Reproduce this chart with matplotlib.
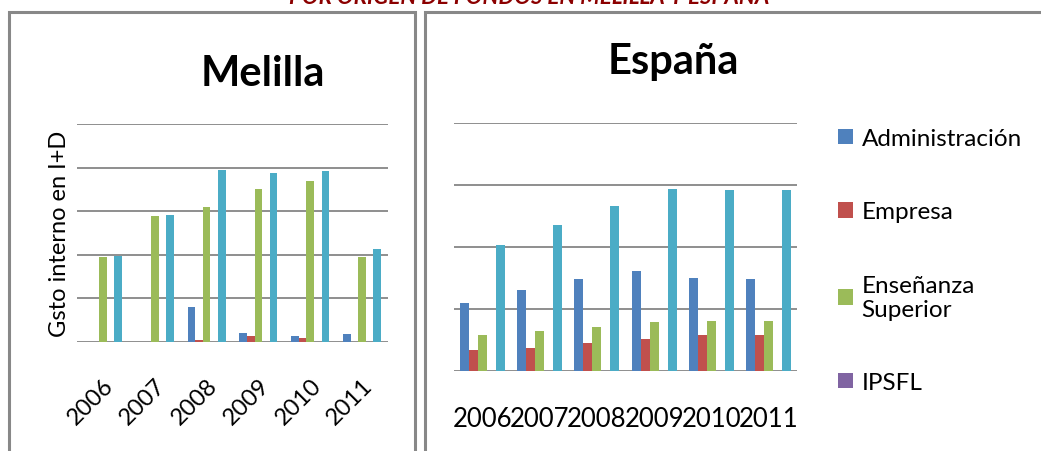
import numpy as np
import matplotlib
matplotlib.use('Agg')
from matplotlib import pyplot as plt
from matplotlib.patches import Rectangle, Patch

plt.rcParams['font.family'] = ['Lato', 'DejaVu Sans']

# data (arbitrary units, one gridline = 1)
years = ['2006', '2007', '2008', '2009', '2010', '2011']
series = ['Administración', 'Empresa', 'Enseñanza\nSuperior', 'IPSFL', 'Total']
colors = ['#4F81BD', '#C0504D', '#9BBB59', '#8064A2', '#4BACC6']

melilla_admin = [0, 0, 0.80, 0.21, 0.14, 0.18]
melilla_empresa = [0, 0, 0.05, 0.14, 0.09, 0]
melilla_ens = [1.95, 2.89, 3.10, 3.51, 3.69, 1.95]
melilla_ipsfl = [0, 0, 0, 0, 0, 0]
melilla_total = [1.98, 2.91, 3.95, 3.88, 3.93, 2.13]

espana_admin = [1.10, 1.31, 1.48, 1.61, 1.50, 1.48]
espana_empresa = [0.34, 0.37, 0.45, 0.52, 0.58, 0.58]
espana_ens = [0.58, 0.65, 0.71, 0.79, 0.81, 0.81]
espana_ipsfl = [0, 0, 0, 0, 0, 0]
espana_total = [2.03, 2.35, 2.66, 2.94, 2.92, 2.92]

melilla = [melilla_admin, melilla_empresa, melilla_ens, melilla_ipsfl, melilla_total]
espana = [espana_admin, espana_empresa, espana_ens, espana_ipsfl, espana_total]

W, H = 1041, 452
fig = plt.figure(figsize=(W / 100, H / 100), dpi=100)
fig.patch.set_facecolor('white')

def px(x0, y0, x1, y1):
    return [x0 / W, 1 - y1 / H, (x1 - x0) / W, (y1 - y0) / H]

def bars(ax, data, width, ymax):
    x = np.arange(len(years))
    for k, vals in enumerate(data):
        ax.bar(x + (k - 2) * width, vals, width, color=colors[k], zorder=3)
    ax.set_xlim(-0.5, len(years) - 0.5)
    ax.set_ylim(0, ymax)
    ax.set_yticks(np.arange(0, ymax + 1))
    ax.yaxis.grid(True, color='#868686', linewidth=1.3, zorder=0)
    ax.tick_params(axis='y', left=False, labelleft=False)
    ax.tick_params(axis='x', bottom=False)
    for s in ['top', 'right', 'left', 'bottom']:
        ax.spines[s].set_visible(False)
    ax.set_xticks(x)

# panel frames
fig.add_artist(Rectangle((8.5 / W, -0.1), 406 / W, 1.1 - 13.5 / H,
                         transform=fig.transFigure, fill=False,
                         edgecolor='#888888', linewidth=2.2))
fig.add_artist(Rectangle((424.5 / W, -0.1), 0.7, 1.1 - 12.5 / H,
                         transform=fig.transFigure, fill=False,
                         edgecolor='#888888', linewidth=2.2))

# cut-off heading at the very top
fig.text(529 / W, 1 - 4 / H, 'POR ORIGEN DE FONDOS EN MELILLA Y ESPAÑA',
         ha='center', va='baseline', fontsize=16, fontstyle='italic',
         fontweight='bold', color='#8B0000')

# Melilla
ax1 = fig.add_axes(px(77, 125, 388, 343))
bars(ax1, melilla, 0.146, 5)
ax1.set_xticklabels(years, rotation=45, ha='right', rotation_mode='anchor',
                    fontsize=17)
ax1.tick_params(axis='x', pad=20)
ax1.set_ylabel('Gsto interno en I+D', fontsize=17, labelpad=5)
fig.text(263 / W, 1 - 74 / H, 'Melilla', ha='center', va='center',
         fontsize=30, fontweight='bold')

# España
ax2 = fig.add_axes(px(454, 124, 797, 372))
bars(ax2, espana, 0.158, 4)
ax2.set_xticklabels(years, fontsize=18.5)
ax2.tick_params(axis='x', pad=22)
fig.text(673 / W, 1 - 62 / H, 'España', ha='center', va='center',
         fontsize=30, fontweight='bold')

handles = [Patch(facecolor=colors[k]) for k in range(4)]
fig.legend(handles, series[:4], loc='upper left',
           bbox_to_anchor=(838 / W, 1 - 129 / H), frameon=False,
           fontsize=17.5, handlelength=0.62, handleheight=0.62,
           handletextpad=0.35, labelspacing=2.15, borderaxespad=0,
           borderpad=0)

fig.savefig('out.png', dpi=100)
